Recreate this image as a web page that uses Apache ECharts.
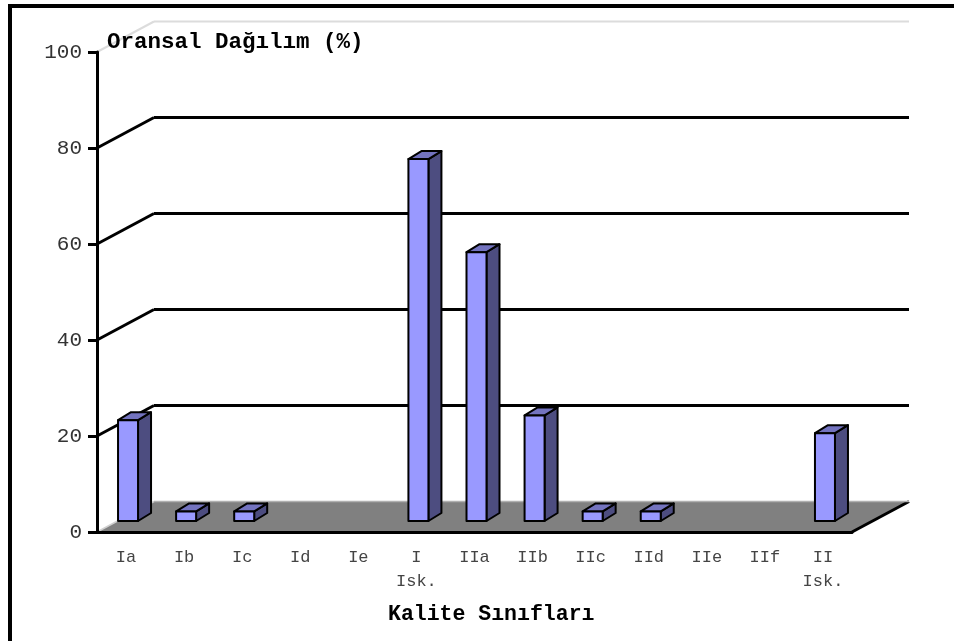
<!doctype html>
<html>
	<head>
		<meta charset="utf-8">
		<title>Oransal Dağılım</title>
		<style>
			html, body { margin: 0; padding: 0; background: #fff; }
			#chart { width: 954px; height: 641px; }
		</style>
	</head>
	<body>
		<div id="chart"></div>
		<script src="https://cdn.jsdelivr.net/npm/echarts@6/dist/echarts.min.js"></script>
		<script type="text/javascript">
			// kalite sınıfları ve oransal dağılım (%)
			var categories = ['Ia', 'Ib', 'Ic', 'Id', 'Ie', 'I\nIsk.', 'IIa', 'IIb', 'IIc', 'IId', 'IIe', 'IIf', 'II\nIsk.'];
			var values = [21, 2, 2, 0, 0, 75.4, 56, 22, 2, 2, 0, 0, 18.3];
			var yTicks = [0, 20, 40, 60, 80, 100];

			var FONT = 'Liberation Mono';
			// derinlik (arka duvar kayması)
			var DX = 57, DY = -30.5;

			var chart = echarts.init(document.getElementById('chart'));

			function bandInfo(api) {
				var bw = api.size([1, 0])[0];
				var left = api.coord([0, 0])[0] - bw / 2;
				return { bw: bw, left: left, right: left + bw * categories.length };
			}

			// zemin
			function renderFloor(params, api) {
				var b = bandInfo(api);
				var y0 = api.coord([0, 0])[1];
				return {
					type: 'group',
					children: [{
						type: 'polygon',
						shape: { points: [[b.left, y0], [b.right, y0], [b.right + DX, y0 + DY], [b.left + DX, y0 + DY]] },
						style: { fill: '#808080', stroke: null }
					}, {
						type: 'line',
						shape: { x1: b.right, y1: y0, x2: b.right + DX, y2: y0 + DY },
						style: { stroke: '#000', lineWidth: 3 }
					}]
				};
			}

			// arka duvar çizgileri
			function renderWall(params, api) {
				var b = bandInfo(api);
				var v = api.value(1);
				var y = api.coord([0, v])[1];
				var color = '#000', lw = 3;
				if (v == 0) { color = '#b0b0b0'; lw = 1.5; }
				if (v == 100) { color = '#dcdcdc'; lw = 2; }
				var diagColor = v == 0 ? '#d0d0d0' : color;
				return {
					type: 'group',
					children: [{
						type: 'line',
						shape: { x1: b.left, y1: y, x2: b.left + DX, y2: y + DY },
						style: { stroke: diagColor, lineWidth: lw }
					}, {
						type: 'line',
						shape: { x1: b.left + DX, y1: y + DY, x2: b.right + DX, y2: y + DY },
						style: { stroke: color, lineWidth: lw }
					}]
				};
			}

			// 3 boyutlu sütun
			function renderBar(params, api) {
				var v = api.value(1);
				if (!v) return;
				var c0 = api.coord([api.value(0), 0]);
				var c1 = api.coord([api.value(0), v]);
				var xl = c0[0] - 8, xr = c0[0] + 12;
				var yb = c0[1] - 11, yt = c1[1] - 11;
				var dx = 13, dy = -8;
				var st = { stroke: '#000', lineWidth: 2, lineJoin: 'round' };
				return {
					type: 'group',
					children: [{
						type: 'polygon',
						shape: { points: [[xr, yt], [xr + dx, yt + dy], [xr + dx, yb + dy], [xr, yb]] },
						style: Object.assign({ fill: '#4d4d80' }, st)
					}, {
						type: 'polygon',
						shape: { points: [[xl, yt], [xl + dx, yt + dy], [xr + dx, yt + dy], [xr, yt]] },
						style: Object.assign({ fill: '#7373bf' }, st)
					}, {
						type: 'polygon',
						shape: { points: [[xl, yt], [xr, yt], [xr, yb], [xl, yb]] },
						style: Object.assign({ fill: '#9999ff' }, st)
					}]
				};
			}

			chart.setOption({
				animation: false,
				backgroundColor: '#fff',
				title: [{
					text: 'Oransal Dağılım (%)',
					left: 107,
					top: 31,
					padding: 0,
					textStyle: { fontFamily: FONT, fontWeight: 'bold', fontSize: 22.5, color: '#000' }
				}, {
					text: 'Kalite Sınıfları',
					left: 388,
					top: 604,
					padding: 0,
					textStyle: { fontFamily: FONT, fontWeight: 'bold', fontSize: 21.5, color: '#000' }
				}],
				graphic: [{
					type: 'rect',
					shape: { x: 10, y: 6, width: 1000, height: 1000 },
					style: { fill: null, stroke: '#000', lineWidth: 4 },
					z: 100
				}],
				grid: { left: 97, right: 102, top: 52, bottom: 109 },
				xAxis: {
					type: 'category',
					data: categories,
					z: 10,
					axisLine: { lineStyle: { color: '#000', width: 3 } },
					axisTick: { length: 9, lineStyle: { color: '#000', width: 3 } },
					axisLabel: { interval: 0, margin: 13, fontFamily: FONT, fontSize: 17, lineHeight: 24, color: '#444' },
					splitLine: { show: false }
				},
				yAxis: {
					type: 'value',
					min: 0,
					max: 100,
					interval: 20,
					z: 10,
					axisLine: { show: true, lineStyle: { color: '#000', width: 3 } },
					axisTick: { show: true, length: 9, lineStyle: { color: '#000', width: 3 } },
					axisLabel: { margin: 15, fontFamily: FONT, fontSize: 21, color: '#333' },
					splitLine: { show: false }
				},
				series: [{
					type: 'custom',
					name: 'zemin',
					clip: false,
					silent: true,
					renderItem: renderFloor,
					data: [[0, 0]]
				}, {
					type: 'custom',
					name: 'duvar',
					clip: false,
					silent: true,
					renderItem: renderWall,
					data: yTicks.map(function(v) { return [0, v]; })
				}, {
					type: 'custom',
					name: 'Oransal Dağılım',
					clip: false,
					renderItem: renderBar,
					data: values.map(function(v, i) { return [i, v]; })
				}]
			});
		</script>
	</body>
</html>
